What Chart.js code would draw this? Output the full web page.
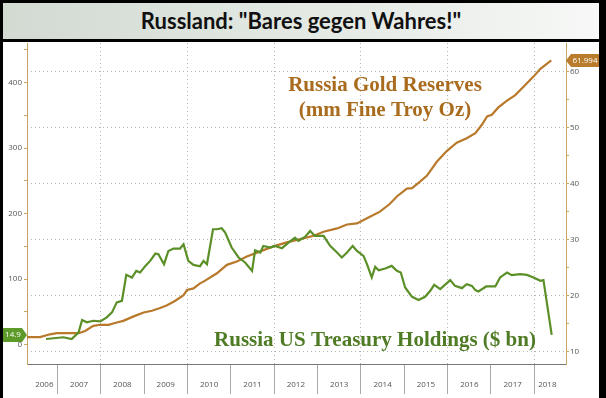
<!DOCTYPE html>
<html>
<head>
<meta charset="utf-8">
<title>Russland: Bares gegen Wahres!</title>
<script src="https://cdn.jsdelivr.net/npm/chart.js"></script>
<style>
  body { margin:0; width:606px; height:398px; overflow:hidden; background:#fff; }
  #chart { position:absolute; left:0; top:0; }
  #frame { position:absolute; left:0; top:0; width:606px; height:398px; box-sizing:border-box;
           border-left:3px solid #000; border-right:7px solid #000; border-top:3px solid #000; pointer-events:none; }
  #title { position:absolute; left:0; top:0; width:606px; height:42px; box-sizing:border-box;
           border:3px solid #000; border-right-width:7px;
           background:linear-gradient(to right,#d2dad2,#e6ebe6 60%,#f7f8f7);
           font:bold 22px Lato, sans-serif; text-align:center; line-height:36px; color:#111; }
</style>
</head>
<body>
<canvas id="chart" width="606" height="398"></canvas>
<div id="frame"></div>
<div id="title">Russland: "Bares gegen Wahres!"</div>

<script>
// x axis: decimal years
const yearLabels   = ['2006','2007','2008','2009','2010','2011','2012','2013','2014','2015','2016','2017','2018'];
const yearLabelPos = [2006.7, 2007.5, 2008.5, 2009.5, 2010.5, 2011.5, 2012.5, 2013.5, 2014.5, 2015.5, 2016.5, 2017.5, 2018.3];
const yearBounds   = [2007, 2008, 2009, 2010, 2011, 2012, 2013, 2014, 2015, 2016, 2017, 2018];

// left axis: US treasury holdings ($ bn)
const treasuryTicks = [0, 50, 100, 150, 200, 250, 300, 350, 400, 450];
const treasuryYears = [2006.74, 2007.14, 2007.33, 2007.49, 2007.57, 2007.68, 2007.83, 2007.99, 2008.14, 2008.26,
  2008.37, 2008.49, 2008.59, 2008.72, 2008.82, 2008.91, 2009.03, 2009.14, 2009.26, 2009.33,
  2009.46, 2009.56, 2009.68, 2009.83, 2009.91, 2010.02, 2010.14, 2010.29, 2010.37, 2010.45,
  2010.59, 2010.68, 2010.79, 2010.87, 2011.02, 2011.18, 2011.33, 2011.49, 2011.56, 2011.68,
  2011.75, 2011.91, 2012.02, 2012.18, 2012.33, 2012.48, 2012.56, 2012.71, 2012.83, 2012.94,
  2013.14, 2013.29, 2013.45, 2013.56, 2013.68, 2013.81, 2013.91, 2014.06, 2014.14, 2014.25,
  2014.33, 2014.41, 2014.56, 2014.71, 2014.83, 2014.92, 2015.02, 2015.18, 2015.33, 2015.48,
  2015.60, 2015.69, 2015.83, 2016.06, 2016.17, 2016.33, 2016.44, 2016.56, 2016.64, 2016.71,
  2016.89, 2017.10, 2017.21, 2017.37, 2017.48, 2017.67, 2017.83, 2017.98, 2018.14, 2018.21, 2018.40];
const treasuryValues = [8.7, 11.3, 8.7, 18.9, 37.6, 34.1, 36.5, 35.6, 41.7, 49.3,
  64.6, 67, 106.6, 102.6, 112.7, 110.2, 120.3, 127.9, 139.2, 138.1,
  122.9, 143.1, 146.8, 146.8, 153.3, 127.9, 121.8, 119.8, 127.9, 122.9,
  176.2, 176.2, 177.7, 171.2, 148.3, 133.1, 125.5, 112.7, 144.2, 140.7,
  150.8, 148.3, 150.8, 147.3, 155.9, 163.5, 158.4, 164.5, 173.6, 166,
  166, 150.8, 140.7, 133.1, 140.7, 150.8, 143.1, 135.5, 122.9, 102.6,
  118.8, 113.7, 116.3, 120.3, 112.7, 110.2, 87.4, 73.1, 68.1, 73.1,
  82.2, 91.4, 84.8, 98.5, 89.8, 86.3, 92.4, 89.8, 83.3, 81.3,
  88.9, 88.9, 102.6, 110.2, 106.1, 107.7, 106.6, 102.6, 97.5, 98.5, 14.9];

// right axis: gold reserves (mm fine troy oz)
const goldTicks = [10, 15, 20, 25, 30, 35, 40, 45, 50, 55, 60];
const goldYears = [2006.30, 2006.60, 2006.83, 2006.99, 2007.22, 2007.49, 2007.64, 2007.83, 2007.99, 2008.18,
  2008.37, 2008.52, 2008.76, 2008.99, 2009.18, 2009.37, 2009.53, 2009.72, 2009.91, 2009.99,
  2010.14, 2010.29, 2010.37, 2010.68, 2010.91, 2011.14, 2011.37, 2011.68, 2011.98, 2012.29,
  2012.60, 2012.91, 2013.14, 2013.45, 2013.68, 2013.91, 2014.14, 2014.44, 2014.67, 2014.83,
  2015.06, 2015.18, 2015.37, 2015.52, 2015.75, 2015.98, 2016.21, 2016.44, 2016.64, 2016.79,
  2016.91, 2017.02, 2017.17, 2017.37, 2017.56, 2017.75, 2017.98, 2018.14, 2018.39];
const goldValues = [12.6, 12.6, 13.1, 13.3, 13.3, 13.3, 13.7, 14.6, 14.8, 14.8,
  15.2, 15.5, 16.3, 17.0, 17.3, 17.8, 18.3, 19.1, 20.1, 21.0,
  21.3, 22.2, 22.5, 24.0, 25.5, 26.1, 27.0, 27.9, 28.8, 29.5,
  30.1, 30.7, 31.4, 32.0, 32.7, 32.9, 33.8, 35.0, 36.4, 37.7,
  39.1, 39.2, 40.4, 41.4, 43.9, 45.8, 47.3, 48.1, 49.0, 50.5,
  52.0, 52.3, 53.6, 54.8, 55.8, 57.3, 59.1, 60.5, 61.994];

const GREEN = '#5b8f27', GREEN_TXT = '#4e7b24';
const GOLD = '#b8792b', GOLD_TXT = '#a96c1f';
const AXIS = '#c9a465', GRID = '#b4b4b4';
const tickFont = {family:'Open Sans', size:8};

const overlay = {
  id: 'overlay',
  afterDraw(chart) {
    const c = chart.ctx, yL = chart.scales.yL, yR = chart.scales.yR;
    c.save();
    c.font = 'bold 21px "Liberation Serif", serif';
    c.textAlign = 'center';
    c.textBaseline = 'alphabetic';
    c.fillStyle = GOLD_TXT;
    c.fillText('Russia Gold Reserves', 385, 91);
    c.fillText('(mm Fine Troy Oz)', 385, 116);
    c.fillStyle = GREEN_TXT;
    c.fillText('Russia US Treasury Holdings ($ bn)', 375, 346);

    // last value tags
    const lastT = treasuryValues[treasuryValues.length - 1];
    const ty = yL.getPixelForValue(lastT);
    c.fillStyle = '#5e9a2a';
    c.beginPath();
    c.moveTo(3, ty - 7); c.lineTo(22, ty - 7); c.lineTo(27, ty); c.lineTo(22, ty + 7); c.lineTo(3, ty + 7);
    c.closePath(); c.fill();
    const lastG = goldValues[goldValues.length - 1];
    const gy = yR.getPixelForValue(lastG);
    c.fillStyle = '#b87c2c';
    c.beginPath();
    c.moveTo(566, gy); c.lineTo(571, gy - 6.5); c.lineTo(599, gy - 6.5); c.lineTo(599, gy + 6.5); c.lineTo(571, gy + 6.5);
    c.closePath(); c.fill();
    c.font = '8px "Open Sans", sans-serif';
    c.fillStyle = '#fff';
    c.textBaseline = 'middle';
    c.fillText(String(lastT), 13, ty);
    c.fillText(String(lastG), 585, gy);
    c.restore();
  }
};

new Chart(document.getElementById('chart'), {
  type: 'line',
  data: {
    datasets: [{
      label: 'Russia US Treasury Holdings ($ bn)',
      data: treasuryYears.map((x, i) => ({x: x, y: treasuryValues[i]})),
      yAxisID: 'yL',
      borderColor: GREEN,
      borderWidth: 2.2,
      pointRadius: 0,
      tension: 0
    }, {
      label: 'Russia Gold Reserves (mm Fine Troy Oz)',
      data: goldYears.map((x, i) => ({x: x, y: goldValues[i]})),
      yAxisID: 'yR',
      borderColor: GOLD,
      borderWidth: 2.2,
      pointRadius: 0,
      tension: 0
    }]
  },
  options: {
    responsive: false,
    animation: false,
    layout: {padding: {top: 43}},
    plugins: {legend: {display: false}, tooltip: {enabled: false}},
    scales: {
      x: {
        type: 'linear', min: 2006.3, max: 2018.73,
        afterBuildTicks: s => { s.ticks = yearBounds.concat(yearLabelPos).sort((a, b) => a - b).map(v => ({value: v})); },
        afterFit: s => { s.height = 34; },
        ticks: {
          autoSkip: false, maxRotation: 0, padding: -14, color: '#555', font: tickFont,
          callback: v => { const i = yearLabelPos.indexOf(v); return i < 0 ? '' : yearLabels[i]; }
        },
        grid: {
          color: c => (c.tick && Number.isInteger(c.tick.value) && c.tick.value % 2 === 0) ? GRID : 'rgba(0,0,0,0)',
          tickColor: c => (c.tick && Number.isInteger(c.tick.value)) ? '#a8a8a8' : 'rgba(0,0,0,0)',
          tickLength: 30
        },
        border: {color: '#777', dash: [1, 3]}
      },
      yL: {
        position: 'left', min: -29.5, max: 460.6,
        afterBuildTicks: s => { s.ticks = treasuryTicks.map(v => ({value: v})); },
        afterFit: s => { s.width = 27; },
        ticks: {autoSkip: false, padding: 2, color: '#555', font: tickFont,
          callback: v => v % 100 === 0 ? String(v) : ''},
        grid: {drawOnChartArea: false, tickLength: 3, tickColor: AXIS},
        border: {color: AXIS}
      },
      yR: {
        position: 'right', min: 7.8, max: 65.1,
        afterBuildTicks: s => { s.ticks = goldTicks.map(v => ({value: v})); },
        afterFit: s => { s.width = 40; },
        ticks: {autoSkip: false, padding: 1, color: '#555', font: tickFont,
          callback: v => v % 10 === 0 ? String(v) : ''},
        grid: {
          color: c => (c.tick && c.tick.value % 10 === 0) ? GRID : 'rgba(0,0,0,0)',
          tickLength: 3, tickColor: AXIS
        },
        border: {color: AXIS, dash: [1, 3]}
      }
    }
  },
  plugins: [overlay]
});
</script>
</body>
</html>
